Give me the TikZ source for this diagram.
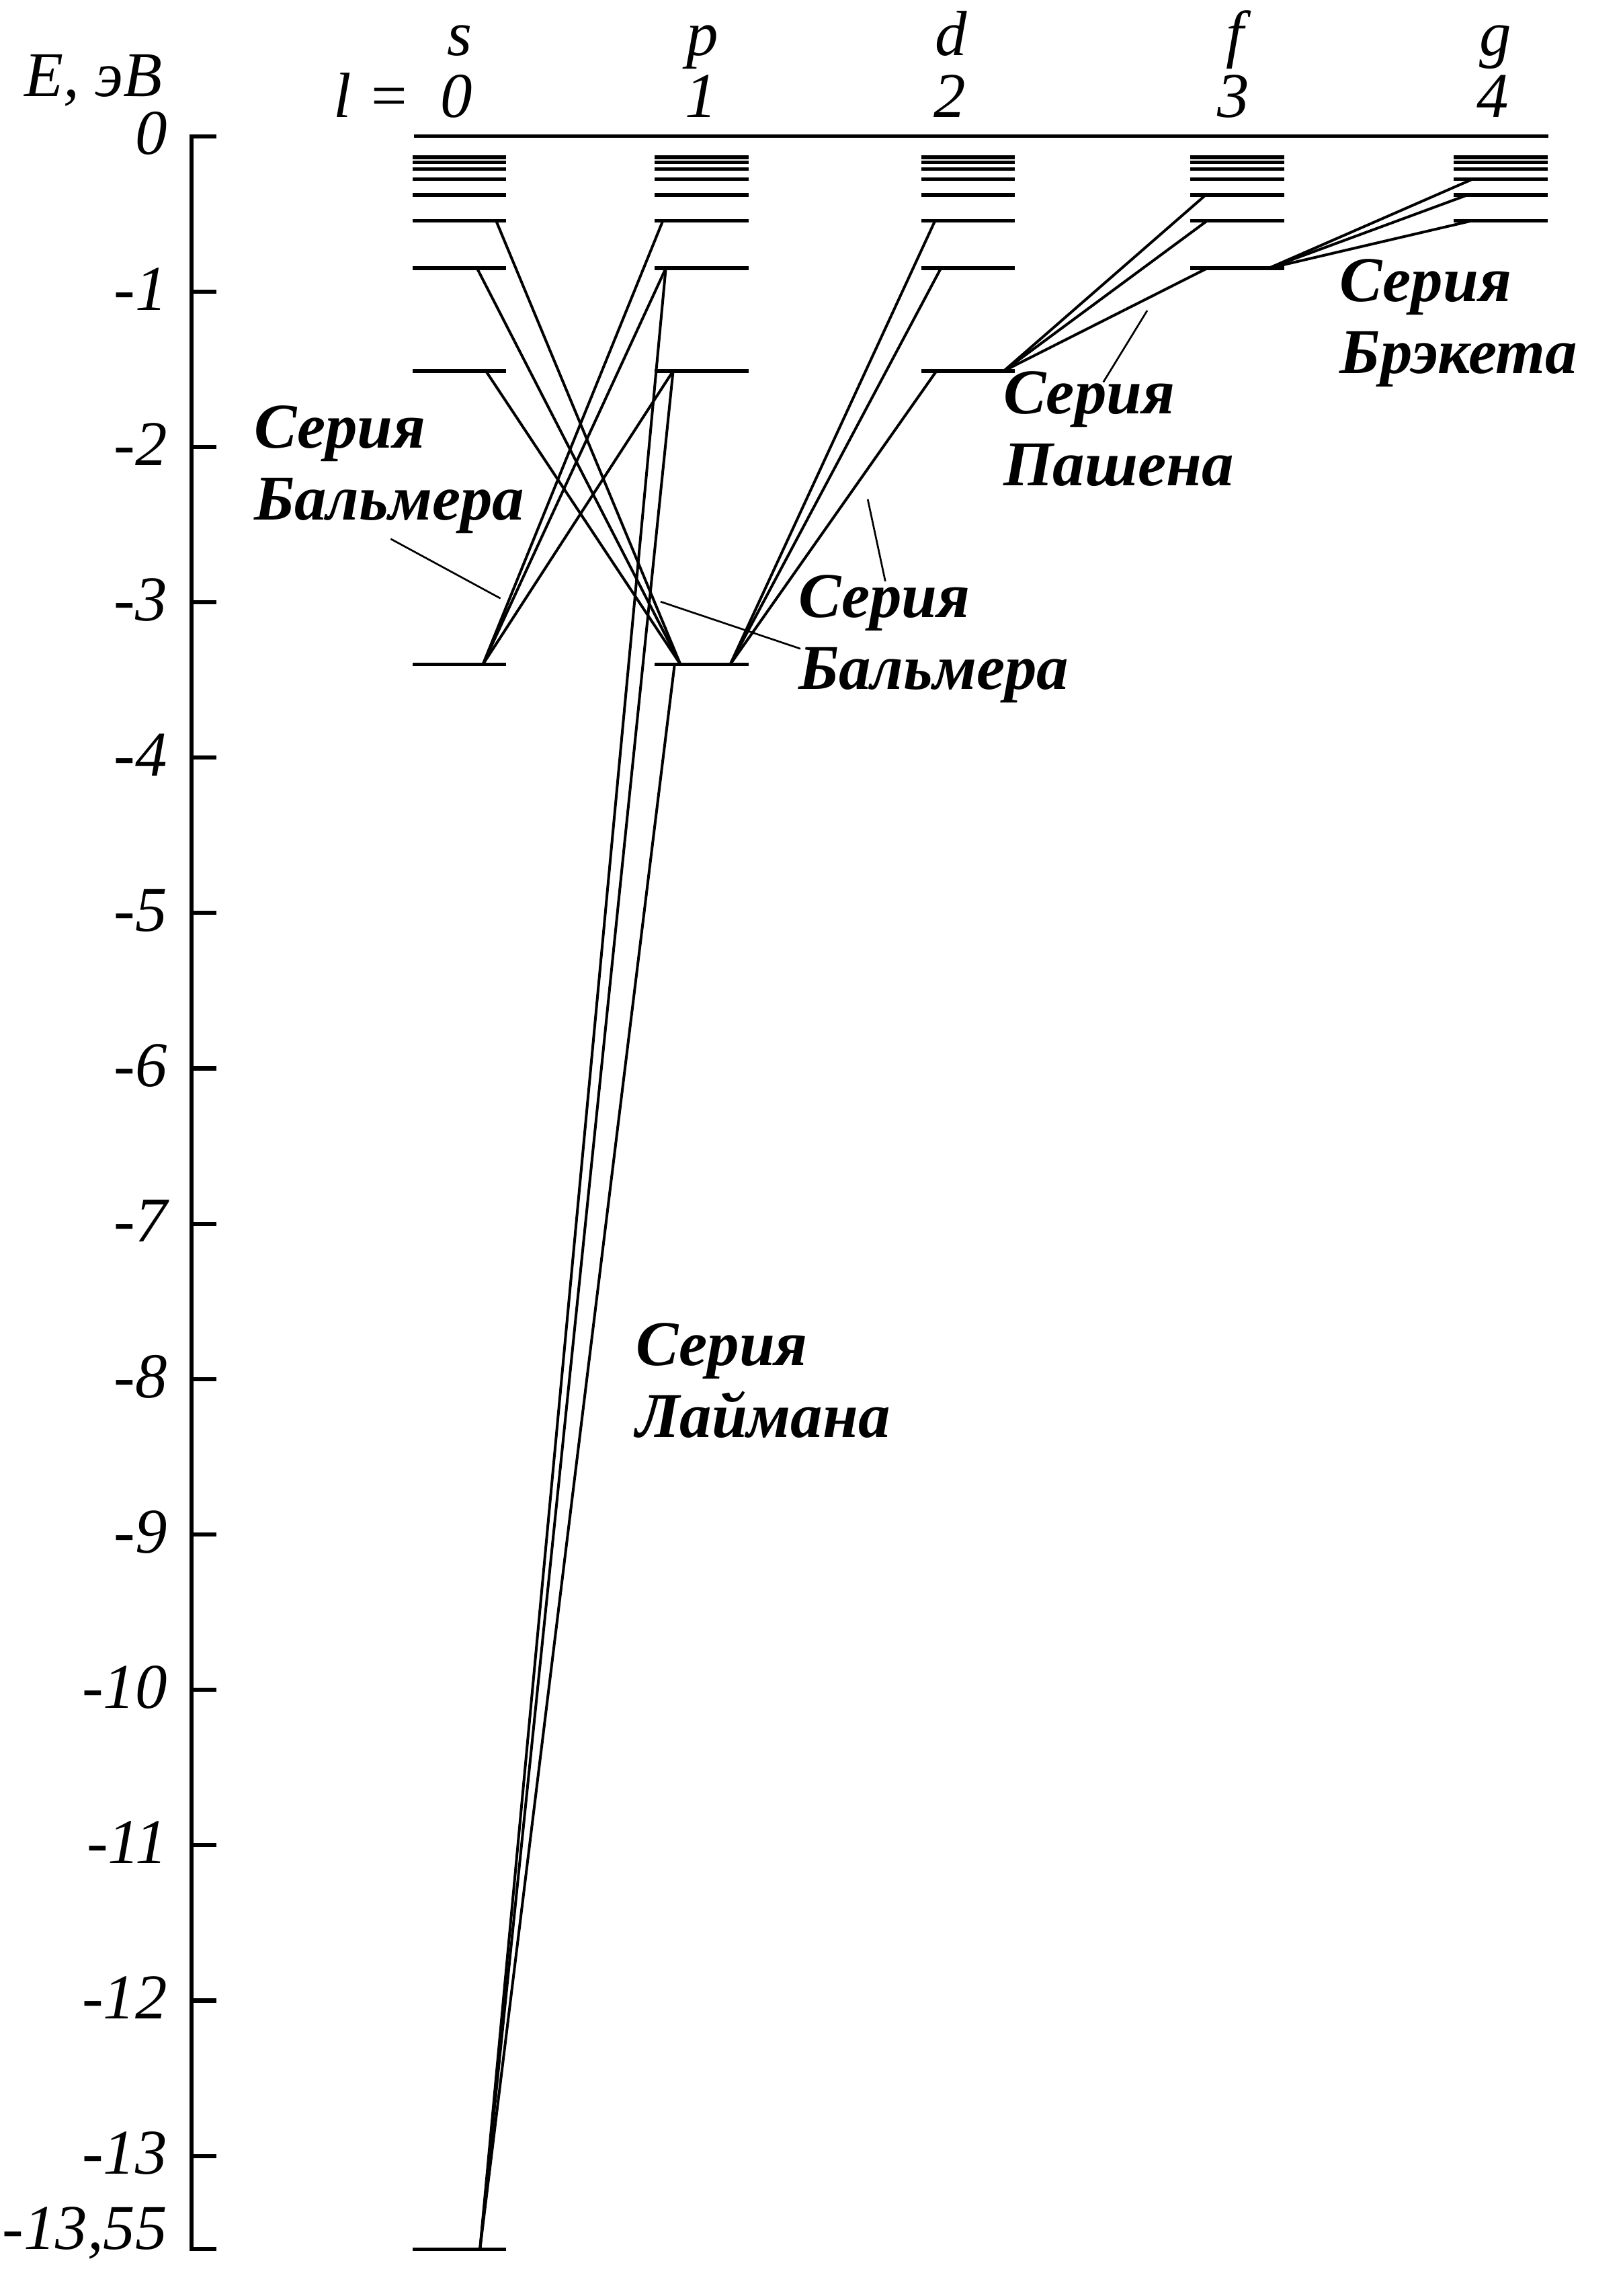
\documentclass[tikz,border=0pt]{standalone}
\usepackage{fontspec}
\setmainfont{Liberation Serif}
\usetikzlibrary{positioning}
\newcommand{\lblsize}{\fontsize{12.4}{13.9}\selectfont}
\tikzset{
  level/.style={line width=0.68pt},
  axisline/.style={line width=0.8pt},
  trans/.style={line width=0.52pt},
  leader/.style={line width=0.35pt},
  ticklbl/.style={anchor=base east, inner sep=0pt, font=\lblsize\itshape},
  hdr/.style={anchor=base, inner sep=0pt, font=\lblsize\itshape},
  series/.style={anchor=base west, inner sep=0pt, align=left, font=\lblsize\bfseries\itshape},
}

\begin{document}
\begin{tikzpicture}[x=0.01cm, y=1.061cm]
  \useasboundingbox (0,0.8765) rectangle (1109,-13.9015);

  % energy axis
  \draw[axisline] (148,0) -- (131,0) -- (131,-13.6) -- (148,-13.6);
  \foreach \k in {1,...,13}{
    \draw[axisline] (131,-\k) -- (148,-\k);
    \node[ticklbl] (t\k) at (115,{-\k-0.118}) {-\k};
  }
  \node[ticklbl] (t0) at (115,-0.118) {0};
  \node[ticklbl] (tmin) at (115,-13.6) {-13,55};
  \node[anchor=base west, inner sep=0pt, font=\lblsize\itshape] (unit) at (16,0.254) {E, эВ};

  % column headers
  \node[anchor=base east, inner sep=0pt, font=\lblsize\itshape] (lq) at (281,0.1225) {l =};
  \foreach \nm/\xh/\l in {hs/312/0, hp/479/1, hd/649/2, hf/843/3, hg/1020/4}{
    \node[hdr] (\nm) at (\xh,0.1225) {\l};
  }
  \node[hdr] (ls) at (314,0.518) {s};
  \node[hdr] (lp) at (480,0.518) {p};
  \node[hdr] (ld) at (650,0.518) {d};
  \node[hdr] (lf) at (844,0.518) {f};
  \node[hdr] (lg) at (1022,0.518) {g};

  % levels, E = -13.6/n^2
  \draw[level] (283,0) -- (1058,0);
  \foreach \xc/\nmin in {314/1, 479.5/2, 661.5/3, 845.5/4, 1025.5/5}{
    \foreach \n in {\nmin,...,10}{
      \draw[level] ({\xc-32},{-13.6/(\n*\n)}) -- ++(64,0);
    }
  }

  % level ends used by the transitions
  \coordinate (s1) at (328,-13.6);
  \coordinate (s2) at (330,-3.4);
  \coordinate (s3) at (332,-1.511);
  \coordinate (s4) at (326,-0.85);
  \coordinate (s5) at (339,-0.544);
  \coordinate (p2) at (461,-3.4);
  \coordinate (p2b) at (465,-3.4);
  \coordinate (p2c) at (499,-3.4);
  \coordinate (p3) at (460,-1.511);
  \coordinate (p4) at (455,-0.85);
  \coordinate (p5) at (453,-0.544);
  \coordinate (d3) at (640,-1.511);
  \coordinate (d3b) at (686,-1.511);
  \coordinate (d4) at (643,-0.85);
  \coordinate (d5) at (639,-0.544);
  \coordinate (f4) at (825,-0.85);
  \coordinate (f4b) at (867,-0.85);
  \coordinate (f5) at (825,-0.544);
  \coordinate (f6) at (824,-0.378);
  \coordinate (g5) at (1006,-0.544);
  \coordinate (g6) at (1003,-0.378);
  \coordinate (g7) at (1006,-0.278);

  % transitions
  \foreach \u in {p2,p3,p4} \draw[trans] (s1) -- (\u);
  \foreach \u in {p3,p4,p5} \draw[trans] (s2) -- (\u);
  \foreach \u in {s3,s4,s5} \draw[trans] (p2b) -- (\u);
  \foreach \u in {d3,d4,d5} \draw[trans] (p2c) -- (\u);
  \foreach \u in {f4,f5,f6} \draw[trans] (d3b) -- (\u);
  \foreach \u in {g5,g6,g7} \draw[trans] (f4b) -- (\u);

  % series labels (base = last line)
  \node[series] (balmA) at (173,-2.469) {Серия\\Бальмера};
  \node[series] (balmB) at (545,-3.558) {Серия\\Бальмера};
  \node[series] (pasch) at (685,-2.248) {Серия\\Пашена};
  \node[series] (brack) at (915,-1.525) {Серия\\Брэкета};
  \node[series] (lyman) at (434,-8.373) {Серия\\Лаймана};

  % leaders
  \coordinate (la1) at (267,-2.592);
  \coordinate (la2) at (342,-2.975);
  \coordinate (lb1) at (547,-3.299);
  \coordinate (lb2) at (451.4,-2.996);
  \coordinate (lc1) at (605,-2.865);
  \coordinate (lc2) at (593,-2.337);
  \coordinate (ld1) at (754,-1.583);
  \coordinate (ld2) at (784,-1.122);
  \draw[leader] (la1) -- (la2);
  \draw[leader] (lb1) -- (lb2);
  \draw[leader] (lc1) -- (lc2);
  \draw[leader] (ld1) -- (ld2);
\end{tikzpicture}
\end{document}
